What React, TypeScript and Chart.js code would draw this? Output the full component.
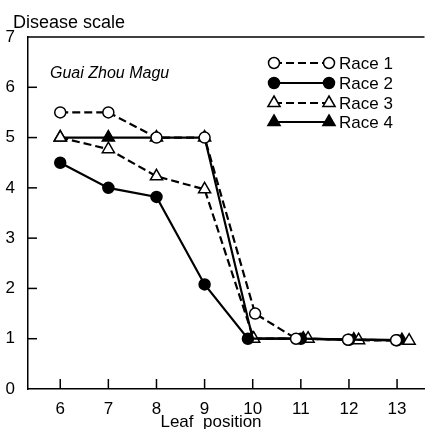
import { useEffect, useRef } from 'react';
import { Chart, registerables } from 'chart.js';
Chart.register(...registerables);

const xTickValues = [6, 7, 8, 9, 10, 11, 12, 13];
const yTickValues = [0, 1, 2, 3, 4, 5, 6, 7];
const seriesNames = ['Race 1', 'Race 2', 'Race 3', 'Race 4'];
const race1X = [6, 7, 8, 9, 10.05, 10.9, 11.98, 12.98];
const race1Y = [5.5, 5.5, 5.0, 5.0, 1.5, 1.0, 0.98, 0.97];
const race2X = [6, 7, 8, 9, 9.9, 11, 12, 13];
const race2Y = [4.5, 4.0, 3.82, 2.08, 1.0, 1.0, 0.98, 0.97];
const race3X = [6, 7, 8, 9, 10.02, 11.15, 12.2, 13.25];
const race3Y = [5.0, 4.77, 4.23, 3.97, 1.0, 1.0, 0.97, 0.96];
const race4X = [6, 7, 8, 9, 10.0, 11.05, 12.1, 13.1];
const race4Y = [5.0, 5.0, 5.0, 5.0, 1.0, 1.0, 0.98, 0.97];

const FAMILY = 'Liberation Sans';
const DASH = [8, 4];

type Style = { dashed: boolean; shape: 'circle' | 'triangle'; filled: boolean };
const styles: Style[] = [
  { dashed: true, shape: 'circle', filled: false },
  { dashed: false, shape: 'circle', filled: true },
  { dashed: true, shape: 'triangle', filled: false },
  { dashed: false, shape: 'triangle', filled: true },
];

function drawMarker(ctx: CanvasRenderingContext2D, s: Style, x: number, y: number) {
  ctx.save();
  ctx.setLineDash([]);
  ctx.lineWidth = 1.5;
  ctx.strokeStyle = '#000';
  ctx.fillStyle = s.filled ? '#000' : '#fff';
  ctx.beginPath();
  if (s.shape === 'circle') {
    ctx.arc(x, y, 5.5, 0, Math.PI * 2);
  } else {
    const r = 7;
    ctx.moveTo(x, y - r);
    ctx.lineTo(x + r * 0.87, y + r * 0.5);
    ctx.lineTo(x - r * 0.87, y + r * 0.5);
    ctx.closePath();
  }
  ctx.fill();
  ctx.stroke();
  ctx.restore();
}

const decorPlugin = {
  id: 'decor',
  afterDraw(chart: any) {
    const ctx: CanvasRenderingContext2D = chart.ctx;
    const { left, right, top, bottom } = chart.chartArea;
    const xs = chart.scales.x;
    const ys = chart.scales.y;
    ctx.save();
    ctx.strokeStyle = '#000';
    ctx.lineWidth = 1.5;
    ctx.setLineDash([]);
    ctx.beginPath();
    ctx.moveTo(left, top);
    ctx.lineTo(right, top);
    ctx.stroke();
    for (const v of yTickValues) {
      if (v === 0 || v === 7) continue;
      const py = ys.getPixelForValue(v);
      ctx.beginPath();
      ctx.moveTo(left, py);
      ctx.lineTo(left + 9, py);
      ctx.stroke();
    }
    for (const v of xTickValues) {
      const px = xs.getPixelForValue(v);
      ctx.beginPath();
      ctx.moveTo(px, bottom);
      ctx.lineTo(px, bottom - 10);
      ctx.stroke();
    }
    ctx.fillStyle = '#000';
    ctx.font = `18px "${FAMILY}"`;
    ctx.textAlign = 'left';
    ctx.textBaseline = 'alphabetic';
    ctx.fillText('Disease scale', 13, 28);
    ctx.font = `17px "${FAMILY}"`;
    ctx.textAlign = 'center';
    ctx.fillText('Leaf  position', 211, 427);
    ctx.textAlign = 'left';
    ctx.font = `italic 16px "${FAMILY}"`;
    ctx.fillText('Guai Zhou Magu', 50, 78);
    ctx.font = `17px "${FAMILY}"`;
    const rows = [63, 83, 103, 122];
    seriesNames.forEach((name, i) => {
      const s = styles[i];
      const y = rows[i];
      ctx.save();
      ctx.lineWidth = 2.2;
      ctx.setLineDash(s.dashed ? DASH : []);
      ctx.beginPath();
      ctx.moveTo(274, y);
      ctx.lineTo(329, y);
      ctx.stroke();
      ctx.restore();
      drawMarker(ctx, s, 274, y);
      drawMarker(ctx, s, 329, y);
      ctx.textBaseline = 'middle';
      ctx.textAlign = 'left';
      ctx.fillText(name, 339, y + 1);
    });
    ctx.restore();
  },
};

function makeData(xs: number[], ys: number[]) {
  return xs.map((x, i) => ({ x, y: ys[i] }));
}

export default function App() {
  const ref = useRef<HTMLCanvasElement>(null);
  useEffect(() => {
    document.body.style.margin = '0';
    Chart.defaults.font.family = FAMILY;
    const all = [
      makeData(race1X, race1Y),
      makeData(race2X, race2Y),
      makeData(race3X, race3Y),
      makeData(race4X, race4Y),
    ];
    const chart = new Chart(ref.current!, {
      type: 'scatter',
      data: {
        datasets: all.map((d, i) => ({
          label: seriesNames[i],
          data: d,
          showLine: true,
          borderColor: '#000',
          borderWidth: 2.2,
          borderDash: styles[i].dashed ? DASH : [],
          pointStyle: styles[i].shape,
          pointRadius: styles[i].shape === 'circle' ? 5.5 : 7,
          pointBorderWidth: 1.5,
          pointBorderColor: '#000',
          pointBackgroundColor: styles[i].filled ? '#000' : '#fff',
          tension: 0,
        })),
      },
      plugins: [decorPlugin],
      options: {
        responsive: false,
        animation: false,
        layout: { padding: { top: 37, right: 0, left: 0, bottom: 0 } },
        plugins: { legend: { display: false }, tooltip: { enabled: false } },
        scales: {
          x: {
            type: 'linear',
            min: 5.33,
            max: 13.57,
            grid: { display: false },
            border: { display: true, color: '#000', width: 1.5 },
            afterBuildTicks: (s: any) => {
              s.ticks = xTickValues.map((v) => ({ value: v }));
            },
            afterFit: (s: any) => {
              s.height = 40;
            },
            ticks: {
              color: '#000',
              font: { family: FAMILY, size: 17 },
              padding: 2,
              maxRotation: 0,
              autoSkip: false,
            },
          },
          y: {
            type: 'linear',
            min: 0,
            max: 7,
            grid: { display: false },
            border: { display: true, color: '#000', width: 1.5 },
            afterBuildTicks: (s: any) => {
              s.ticks = yTickValues.map((v) => ({ value: v }));
            },
            afterFit: (s: any) => {
              s.width = 28;
            },
            ticks: {
              color: '#000',
              font: { family: FAMILY, size: 17 },
              padding: 5,
              autoSkip: false,
            },
          },
        },
      },
    } as any);
    return () => chart.destroy();
  }, []);
  return <canvas ref={ref} width={433} height={429} style={{ display: 'block' }} />;
}
